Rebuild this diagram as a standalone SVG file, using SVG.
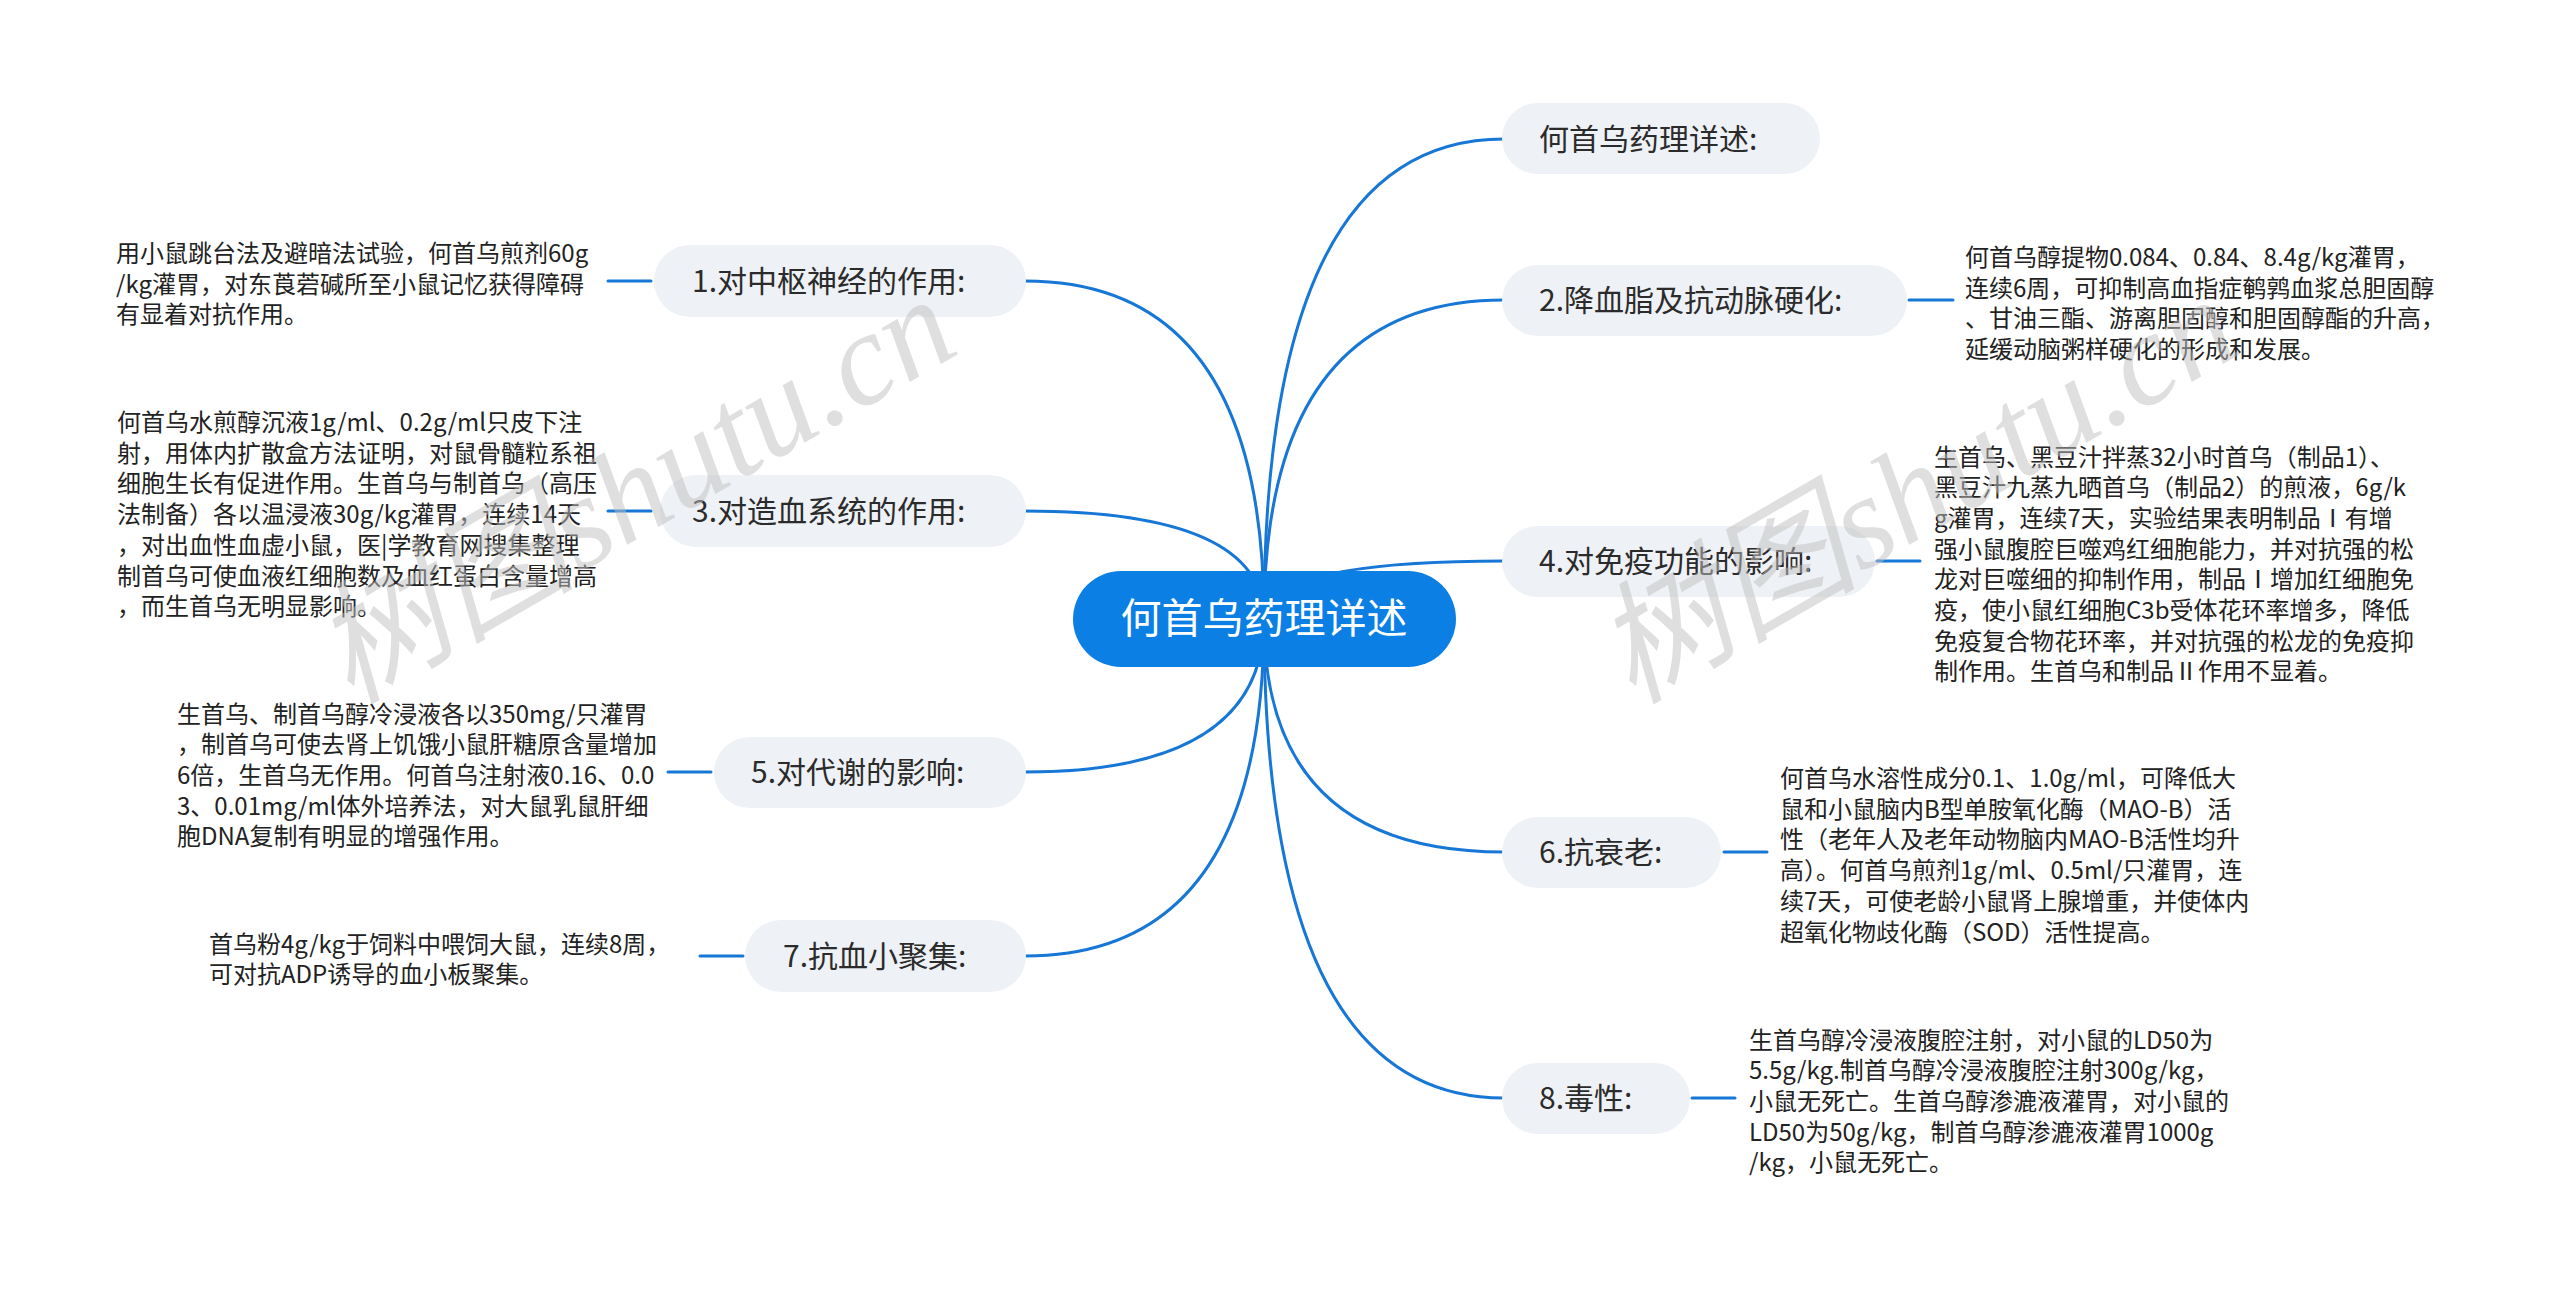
<svg xmlns="http://www.w3.org/2000/svg" width="2560" height="1291" viewBox="0 0 2560 1291">
<style>
.topic rect{fill:#eef1f5}
.topic text{font-family:"Noto Sans CJK SC","Microsoft YaHei",sans-serif;font-size:30px;fill:#2b2b2b}
.root rect{fill:#0b7fe4}
.root text{font-family:"Noto Sans CJK SC",sans-serif;font-size:41px;fill:#ffffff}
.detail{font-family:"Noto Sans CJK SC",sans-serif;font-size:24px;fill:#222222}
.conn path{fill:none;stroke:#1677d6;stroke-width:3;stroke-linecap:round}
.wm{font-family:"Liberation Serif","Noto Sans CJK SC",serif;font-style:italic;font-size:132px;fill:#c0c0c0;opacity:0.5}
</style>
<rect width="2560" height="1291" fill="#ffffff"/>
<g id="connectors" class="conn">
<path d="M1264,619 Q1264,139 1504,139"/>
<path d="M1264,619 Q1264,300 1504,300"/>
<path d="M1264,619 Q1264,561 1504,561"/>
<path d="M1264,619 Q1264,852 1504,852"/>
<path d="M1264,619 Q1264,1098 1504,1098"/>
<path d="M1264,619 Q1264,281 1025,281"/>
<path d="M1264,619 Q1264,511 1025,511"/>
<path d="M1264,619 Q1264,772 1025,772"/>
<path d="M1264,619 Q1264,956 1025,956"/>
<path d="M1909,300 H1953"/>
<path d="M1877,561 H1920"/>
<path d="M1724,852 H1767"/>
<path d="M1692,1098 H1735"/>
<path d="M608,281 H651"/>
<path d="M608,511 H651"/>
<path d="M668,772 H711"/>
<path d="M700,956 H743"/>
</g>
<g id="root" class="root">
<rect x="1073" y="571" width="383" height="96" rx="48"/>
<text x="1264" y="633" text-anchor="middle">何首乌药理详述</text>
</g>
<g id="r1" class="topic">
<rect x="1502" y="103" width="318" height="71" rx="35.5"/>
<text x="1539" y="150">何首乌药理详述:</text>
</g>
<g id="r2" class="topic">
<rect x="1502" y="265" width="405" height="71" rx="35.5"/>
<text x="1539" y="311">2.降血脂及抗动脉硬化:</text>
</g>
<g id="r2d">
<text class="detail" x="1965" y="266">
<tspan x="1965">何首乌醇提物0.084、0.84、8.4g/kg灌胃，</tspan>
<tspan x="1965" dy="30.7">连续6周，可抑制高血指症鹌鹑血浆总胆固醇</tspan>
<tspan x="1965" dy="30.7">、甘油三酯、游离胆固醇和胆固醇酯的升高，</tspan>
<tspan x="1965" dy="30.7">延缓动脑粥样硬化的形成和发展。</tspan>
</text>
</g>
<g id="r4" class="topic">
<rect x="1502" y="526" width="373" height="71" rx="35.5"/>
<text x="1539" y="572">4.对免疫功能的影响:</text>
</g>
<g id="r4d">
<text class="detail" x="1934" y="465.5">
<tspan x="1934">生首乌、黑豆汁拌蒸32小时首乌（制品1）、</tspan>
<tspan x="1934" dy="30.7">黑豆汁九蒸九晒首乌（制品2）的煎液，6g/k</tspan>
<tspan x="1934" dy="30.7">g灌胃，连续7天，实验结果表明制品Ⅰ有增</tspan>
<tspan x="1934" dy="30.7">强小鼠腹腔巨噬鸡红细胞能力，并对抗强的松</tspan>
<tspan x="1934" dy="30.7">龙对巨噬细的抑制作用，制品Ⅰ增加红细胞免</tspan>
<tspan x="1934" dy="30.7">疫，使小鼠红细胞C3b受体花环率增多，降低</tspan>
<tspan x="1934" dy="30.7">免疫复合物花环率，并对抗强的松龙的免疫抑</tspan>
<tspan x="1934" dy="30.7">制作用。生首乌和制品Ⅱ作用不显着。</tspan>
</text>
</g>
<g id="r6" class="topic">
<rect x="1502" y="817" width="219" height="71" rx="35.5"/>
<text x="1539" y="863">6.抗衰老:</text>
</g>
<g id="r6d">
<text class="detail" x="1780" y="787">
<tspan x="1780">何首乌水溶性成分0.1、1.0g/ml，可降低大</tspan>
<tspan x="1780" dy="30.7">鼠和小鼠脑内B型单胺氧化酶（MAO-B）活</tspan>
<tspan x="1780" dy="30.7">性（老年人及老年动物脑内MAO-B活性均升</tspan>
<tspan x="1780" dy="30.7">高）。何首乌煎剂1g/ml、0.5ml/只灌胃，连</tspan>
<tspan x="1780" dy="30.7">续7天，可使老龄小鼠肾上腺增重，并使体内</tspan>
<tspan x="1780" dy="30.7">超氧化物歧化酶（SOD）活性提高。</tspan>
</text>
</g>
<g id="r8" class="topic">
<rect x="1502" y="1063" width="188" height="71" rx="35.5"/>
<text x="1539" y="1109">8.毒性:</text>
</g>
<g id="r8d">
<text class="detail" x="1749" y="1048.5">
<tspan x="1749">生首乌醇冷浸液腹腔注射，对小鼠的LD50为</tspan>
<tspan x="1749" dy="30.7">5.5g/kg.制首乌醇冷浸液腹腔注射300g/kg，</tspan>
<tspan x="1749" dy="30.7">小鼠无死亡。生首乌醇渗漉液灌胃，对小鼠的</tspan>
<tspan x="1749" dy="30.7">LD50为50g/kg，制首乌醇渗漉液灌胃1000g</tspan>
<tspan x="1749" dy="30.7">/kg，小鼠无死亡。</tspan>
</text>
</g>
<g id="l1" class="topic">
<rect x="654" y="245" width="372" height="72" rx="36"/>
<text x="692" y="292">1.对中枢神经的作用:</text>
</g>
<g id="l1d">
<text class="detail" x="116" y="262">
<tspan x="116">用小鼠跳台法及避暗法试验，何首乌煎剂60g</tspan>
<tspan x="116" dy="30.7">/kg灌胃，对东莨菪碱所至小鼠记忆获得障碍</tspan>
<tspan x="116" dy="30.7">有显着对抗作用。</tspan>
</text>
</g>
<g id="l3" class="topic">
<rect x="660" y="475" width="366" height="72" rx="36"/>
<text x="692" y="522">3.对造血系统的作用:</text>
</g>
<g id="l3d">
<text class="detail" x="117" y="431">
<tspan x="117">何首乌水煎醇沉液1g/ml、0.2g/ml只皮下注</tspan>
<tspan x="117" dy="30.7">射，用体内扩散盒方法证明，对鼠骨髓粒系祖</tspan>
<tspan x="117" dy="30.7">细胞生长有促进作用。生首乌与制首乌（高压</tspan>
<tspan x="117" dy="30.7">法制备）各以温浸液30g/kg灌胃，连续14天</tspan>
<tspan x="117" dy="30.7">，对出血性血虚小鼠，医|学教育网搜集整理</tspan>
<tspan x="117" dy="30.7">制首乌可使血液红细胞数及血红蛋白含量增高</tspan>
<tspan x="117" dy="30.7">，而生首乌无明显影响。</tspan>
</text>
</g>
<g id="l5" class="topic">
<rect x="714" y="737" width="312" height="71" rx="35.5"/>
<text x="751" y="783">5.对代谢的影响:</text>
</g>
<g id="l5d">
<text class="detail" x="177" y="722.5">
<tspan x="177">生首乌、制首乌醇冷浸液各以350mg/只灌胃</tspan>
<tspan x="177" dy="30.7">，制首乌可使去肾上饥饿小鼠肝糖原含量增加</tspan>
<tspan x="177" dy="30.7">6倍，生首乌无作用。何首乌注射液0.16、0.0</tspan>
<tspan x="177" dy="30.7">3、0.01mg/ml体外培养法，对大鼠乳鼠肝细</tspan>
<tspan x="177" dy="30.7">胞DNA复制有明显的增强作用。</tspan>
</text>
</g>
<g id="l7" class="topic">
<rect x="745" y="920" width="281" height="72" rx="36"/>
<text x="783" y="967">7.抗血小聚集:</text>
</g>
<g id="l7d">
<text class="detail" x="209" y="952.5">
<tspan x="209">首乌粉4g/kg于饲料中喂饲大鼠，连续8周，</tspan>
<tspan x="209" dy="30.7">可对抗ADP诱导的血小板聚集。</tspan>
</text>
</g>
<g id="watermark">
<text class="wm" x="350" y="705" transform="rotate(-30 350 705)">树图shutu.cn</text>
<text class="wm" x="1632" y="705" transform="rotate(-30 1632 705)">树图shutu.cn</text>
</g>
</svg>
